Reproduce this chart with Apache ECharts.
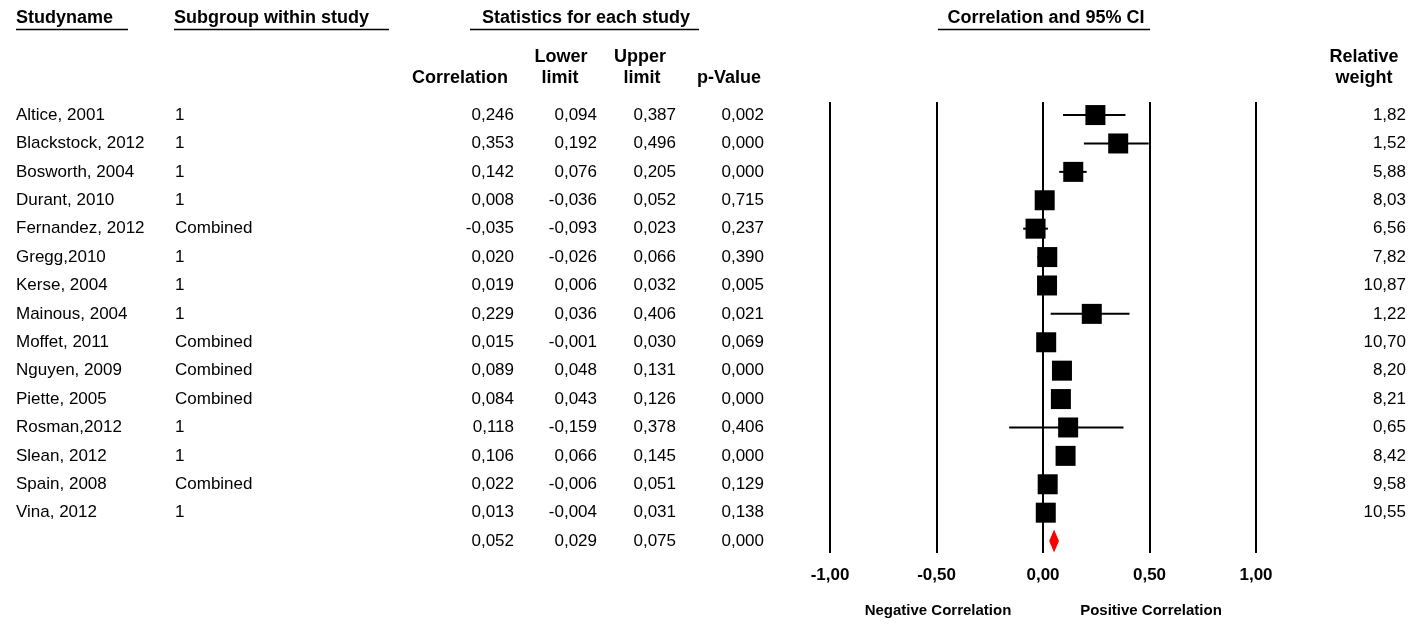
<!DOCTYPE html>
<html><head><meta charset="utf-8">
<script src="https://cdn.jsdelivr.net/npm/echarts@6/dist/echarts.min.js"></script>
<style>html,body{margin:0;padding:0;background:#fff}#c{width:1412px;height:624px}</style>
</head><body><div id="c"></div>
<script>
const studies = ['Altice, 2001','Blackstock, 2012','Bosworth, 2004','Durant, 2010','Fernandez, 2012','Gregg,2010','Kerse, 2004','Mainous, 2004','Moffet, 2011','Nguyen, 2009','Piette, 2005','Rosman,2012','Slean, 2012','Spain, 2008','Vina, 2012'];
const subgroups = ['1','1','1','1','Combined','1','1','1','Combined','Combined','Combined','1','1','Combined','1'];
const correlation = [0.246,0.353,0.142,0.008,-0.035,0.020,0.019,0.229,0.015,0.089,0.084,0.118,0.106,0.022,0.013];
const lowerLimit = [0.094,0.192,0.076,-0.036,-0.093,-0.026,0.006,0.036,-0.001,0.048,0.043,-0.159,0.066,-0.006,-0.004];
const upperLimit = [0.387,0.496,0.205,0.052,0.023,0.066,0.032,0.406,0.030,0.131,0.126,0.378,0.145,0.051,0.031];
const pValue = [0.002,0.000,0.000,0.715,0.237,0.390,0.005,0.021,0.069,0.000,0.000,0.406,0.000,0.129,0.138];
const relWeight = [1.82,1.52,5.88,8.03,6.56,7.82,10.87,1.22,10.70,8.20,8.21,0.65,8.42,9.58,10.55];
const summaryCorr = 0.052, summaryLower = 0.029, summaryUpper = 0.075, summaryP = 0.000;
const xMin = -1, xMax = 1, xInterval = 0.5;

const FONT = '"Liberation Sans", Arial, sans-serif';
const f3 = v => v.toFixed(3).replace('.', ',');
const f2 = v => v.toFixed(2).replace('.', ',');
const nRows = studies.length + 1;

const tableRows = [];
for (let i = 0; i < studies.length; i++) {
  tableRows.push({value: [0, i], cells: [studies[i], subgroups[i], f3(correlation[i]), f3(lowerLimit[i]), f3(upperLimit[i]), f3(pValue[i]), f2(relWeight[i])]});
}
tableRows.push({value: [0, studies.length], cells: ['', '', f3(summaryCorr), f3(summaryLower), f3(summaryUpper), f3(summaryP), '']});
const colX = [16, 175, 514, 597, 676, 764, 1406];
const colAlign = ['left','left','right','right','right','right','right'];

const forestData = correlation.map((c, i) => [c, i, lowerLimit[i], upperLimit[i]]);
const summaryData = [[summaryCorr, studies.length, summaryLower, summaryUpper]];

const chart = echarts.init(document.getElementById('c'), null, {renderer: 'canvas'});

function hdr(text, x, y, align) {
  return {type: 'text', x: x, y: y, style: {text: text, align: align || 'left', verticalAlign: 'middle', font: 'bold 18px ' + FONT, fill: '#000'}};
}
function uline(x1, x2, y) {
  return {type: 'line', shape: {x1: x1, y1: y, x2: x2, y2: y}, style: {stroke: '#000', lineWidth: 1.5}};
}

const option = {
  backgroundColor: '#fff',
  animation: false,
  textStyle: {fontFamily: FONT},
  grid: {left: 830, right: 156, top: 102, bottom: 71, containLabel: false},
  xAxis: {
    type: 'value', min: xMin, max: xMax, interval: xInterval,
    axisLine: {show: false}, axisTick: {show: false},
    splitLine: {show: true, showMinLine: true, showMaxLine: true, lineStyle: {color: '#000', width: 2}},
    axisLabel: {formatter: v => f2(v), fontWeight: 'bold', fontSize: 17, color: '#000', margin: 14, fontFamily: FONT}
  },
  yAxis: {type: 'value', inverse: true, min: -0.46, max: 15.42, show: false, splitLine: {show: false}},
  series: [
    {
      type: 'custom', name: 'table', silent: true,
      encode: {x: 0, y: 1},
      data: tableRows.map(r => r.value),
      renderItem: function (params, api) {
        const idx = params.dataIndex;
        const y = api.coord([0, api.value(1)])[1];
        const cells = tableRows[idx].cells;
        return {type: 'group', children: cells.map((t, k) => ({
          type: 'text', style: {text: t, x: colX[k], y: y, align: colAlign[k], verticalAlign: 'middle', fontSize: 17, fontFamily: FONT, fill: '#000'}
        }))};
      }
    },
    {
      type: 'custom', name: 'studies', silent: true,
      encode: {x: [0, 2, 3], y: 1},
      data: forestData,
      renderItem: function (params, api) {
        const p = api.coord([api.value(0), api.value(1)]);
        const l = api.coord([api.value(2), api.value(1)]);
        const u = api.coord([api.value(3), api.value(1)]);
        const s = 20;
        return {type: 'group', children: [
          {type: 'line', shape: {x1: l[0], y1: l[1], x2: u[0], y2: u[1]}, style: {stroke: '#000', lineWidth: 2}},
          {type: 'rect', shape: {x: p[0] - s / 2, y: p[1] - s / 2, width: s, height: s}, style: {fill: '#000'}}
        ]};
      }
    },
    {
      type: 'custom', name: 'summary', silent: true,
      encode: {x: [0, 2, 3], y: 1},
      data: summaryData,
      renderItem: function (params, api) {
        const p = api.coord([api.value(0), api.value(1)]);
        const l = api.coord([api.value(2), api.value(1)]);
        const u = api.coord([api.value(3), api.value(1)]);
        const h = 11.5;
        return {type: 'polygon', shape: {points: [[l[0], p[1]], [p[0], p[1] - h], [u[0], p[1]], [p[0], p[1] + h]]}, style: {fill: '#ff0000'}};
      }
    }
  ],
  graphic: [
    hdr('Studyname', 16, 18), uline(16, 128, 29.5),
    hdr('Subgroup within study', 174, 18), uline(174, 389, 29.5),
    hdr('Statistics for each study', 586, 18, 'center'), uline(470, 699, 29.5),
    hdr('Correlation and 95% CI', 1046, 18, 'center'), uline(938, 1150, 29.5),
    hdr('Correlation', 460, 78, 'center'),
    hdr('Lower', 561, 57, 'center'), hdr('limit', 560, 78, 'center'),
    hdr('Upper', 640, 57, 'center'), hdr('limit', 642, 78, 'center'),
    hdr('p-Value', 729, 78, 'center'),
    hdr('Relative', 1364, 57, 'center'), hdr('weight', 1364, 78, 'center'),
    {type: 'text', x: 938, y: 611, style: {text: 'Negative Correlation', align: 'center', verticalAlign: 'middle', font: 'bold 15px ' + FONT, fill: '#000'}},
    {type: 'text', x: 1151, y: 611, style: {text: 'Positive Correlation', align: 'center', verticalAlign: 'middle', font: 'bold 15px ' + FONT, fill: '#000'}}
  ]
};
chart.setOption(option);
</script>
</body></html>
